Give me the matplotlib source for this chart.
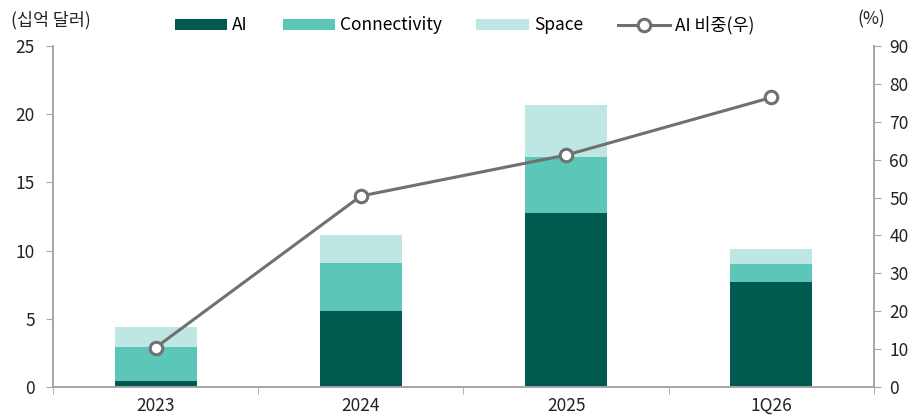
import matplotlib.pyplot as plt
import numpy as np

plt.rcParams['font.family'] = ['Noto Sans CJK KR', 'DejaVu Sans']

# 분기/연도별 매출 (십억 달러)
periods = ['2023', '2024', '2025', '1Q26']
ai = [0.45, 5.6, 12.75, 7.7]
connectivity = [2.45, 3.5, 4.1, 1.35]
space = [1.5, 2.05, 3.85, 1.05]
ai_share = [10.4, 50.4, 61.2, 76.4]  # %

c_ai = '#005A50'
c_conn = '#5CC6B8'
c_space = '#BEE6E2'
c_line = '#707070'
c_axis = '#A6A6A6'
c_text = '#222222'
fs = 12.5

fig = plt.figure(figsize=(9.2, 4.2), dpi=100)
ax1 = fig.add_axes([0.0576, 0.0786, 0.8924, 0.812])
ax2 = ax1.twinx()

x = np.arange(len(periods))
w = 0.4
ai = np.array(ai)
connectivity = np.array(connectivity)
space = np.array(space)

b1 = ax1.bar(x, ai, w, color=c_ai, label='AI', zorder=2)
b2 = ax1.bar(x, connectivity, w, bottom=ai, color=c_conn, label='Connectivity', zorder=2)
b3 = ax1.bar(x, space, w, bottom=ai + connectivity, color=c_space, label='Space', zorder=2)

l1, = ax2.plot(x, ai_share, color=c_line, lw=2.2, marker='o', ms=9,
               mfc='white', mec=c_line, mew=2.2, label='AI 비중(우)', zorder=3)

ax1.set_xlim(-0.5, 3.5)
ax1.set_ylim(0, 25)
ax1.set_yticks(range(0, 26, 5))
ax2.set_ylim(0, 90)
ax2.set_yticks(range(0, 91, 10))

ax1.set_xticks(x)
ax1.set_xticklabels(periods)
ax1.set_xticks(np.arange(-0.5, 4, 1), minor=True)
ax1.tick_params(axis='x', which='major', length=0, pad=7, labelsize=fs, colors=c_text)
ax1.tick_params(axis='x', which='minor', length=5, color=c_axis)
ax1.tick_params(axis='y', length=5, color=c_axis, labelsize=fs, labelcolor=c_text, pad=8)
ax2.tick_params(axis='y', length=5, color=c_axis, labelsize=fs, labelcolor=c_text, pad=6)

for a in (ax1, ax2):
    a.spines['top'].set_visible(False)
    for s in ('left', 'right', 'bottom'):
        a.spines[s].set_color(c_axis)
        a.spines[s].set_linewidth(1.2)

ax1.set_zorder(ax2.get_zorder() - 1)
ax2.patch.set_visible(False)

fig.text(0.012, 0.952, '(십억 달러)', fontsize=fs, color=c_text, va='center')
fig.text(0.932, 0.955, '(%)', fontsize=fs, color=c_text, va='center')

fig.legend(handles=[b1, b2, b3, l1], loc='center', bbox_to_anchor=(0.505, 0.94),
           ncol=4, frameon=False, fontsize=fs, handlelength=3.0, handleheight=0.55,
           columnspacing=2.0, handletextpad=0.3)

fig.savefig('out.png', dpi=100)
